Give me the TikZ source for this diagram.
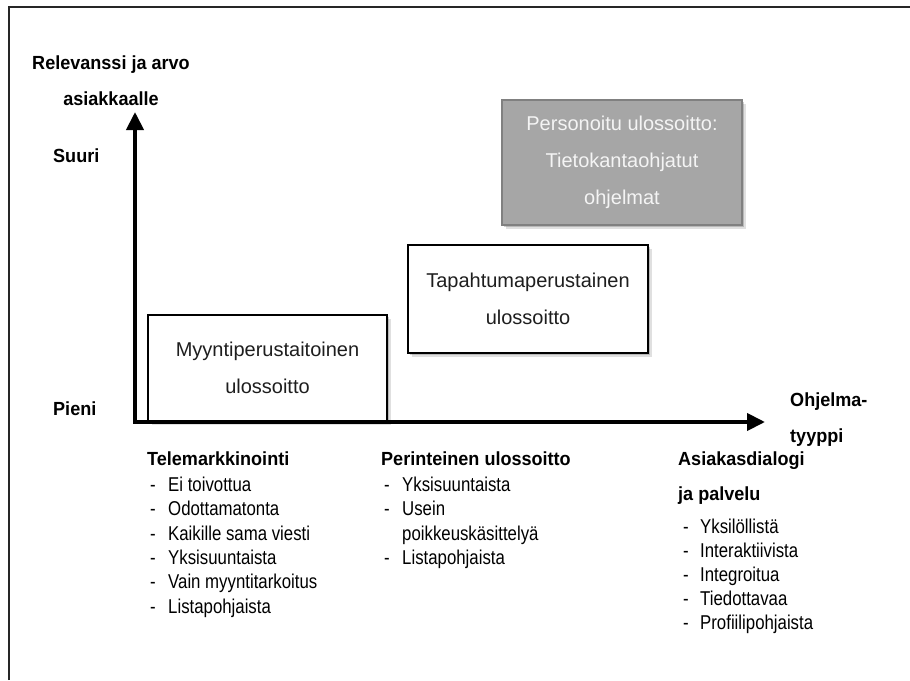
\documentclass[tikz,border=0pt]{standalone}
\usepackage{fontspec}
\setmainfont{Liberation Sans}
\newfontfamily\axisfont[FakeStretch=0.95]{Liberation Sans}
\newfontfamily\itemfont[FakeStretch=0.84]{Liberation Sans}
\usetikzlibrary{arrows.meta,shadows}

\definecolor{boxgray}{HTML}{A6A6A6}
\definecolor{boxedge}{HTML}{808080}
\definecolor{inktext}{HTML}{1E1E1E}
\definecolor{palegray}{HTML}{F4F4F4}

\newcommand{\dashlead}{\makebox[18pt][l]{-}}

\begin{document}
\begin{tikzpicture}[x=1pt,y=-1pt,
  frameline/.style={draw=black!85, line width=1.6pt},
  axisline/.style={line width=4pt, line join=miter,
    {Triangle[length=18pt,width=17pt]}-{Triangle[length=18pt,width=17pt]}},
  softshadow/.style={
    drop shadow={shadow xshift=3.5pt, shadow yshift=-3.5pt, opacity=0.12, fill=black},
    drop shadow={shadow xshift=2pt, shadow yshift=-2pt, opacity=0.18, fill=black}},
  stagebox/.style={draw=black, line width=1.5pt, fill=white, softshadow,
    inner sep=0pt, align=center, text=inktext,
    font=\fontsize{20}{37}\selectfont},
  topbox/.style={stagebox, draw=boxedge, line width=1.2pt, fill=boxgray, text=palegray},
  axislabel/.style={font=\axisfont\bfseries\fontsize{19}{23}\selectfont,
    inner sep=0pt, text height=14pt, text depth=4pt},
  heading/.style={axislabel, anchor=west},
  item/.style={font=\itemfont\fontsize{20}{24}\selectfont, inner sep=0pt,
    text height=14.5pt, text depth=4pt, anchor=west}
]
\useasboundingbox (0,0) rectangle (910,680);

% page frame (open towards the right and the bottom)
\coordinate (frameBL) at (9,680);
\coordinate (frameTL) at (9,7);
\coordinate (frameTR) at (910,7);
\draw[frameline] (frameBL) -- (frameTL) -- (frameTR);

% level boxes
\node[stagebox, minimum width=239pt, minimum height=106pt] (sales) at (267.5,368)
  {Myyntiperustaitoinen\\ulossoitto};
\node[stagebox, minimum width=240pt, minimum height=108pt] (event) at (528,299)
  {Tapahtumaperustainen\\ulossoitto};
\node[topbox, minimum width=240pt, minimum height=125pt] (personal) at (622,162.5)
  {Personoitu ulossoitto:\\Tietokantaohjatut\\ohjelmat};

% axes
\coordinate (ytip) at (135,112);
\coordinate (origin) at (135,422);
\coordinate (xtip) at (765,422);
\draw[axisline] (ytip) -- (origin) -- (xtip);

% axis captions
\node[axislabel] (ycap1) at (111,64) {Relevanssi ja arvo};
\node[axislabel] (ycap2) at (111,100) {asiakkaalle};
\node[heading] (high) at (53,157) {Suuri};
\node[heading] (low) at (53,410) {Pieni};
\node[heading] (xcap1) at (790,401) {Ohjelma-};
\node[heading] (xcap2) at (790,437) {tyyppi};

% program types
\node[heading] (tele) at (147,460) {Telemarkkinointi};
\foreach \t [count=\i] in {Ei toivottua, Odottamatonta, Kaikille sama viesti,
    Yksisuuntaista, Vain myyntitarkoitus, Listapohjaista}
  \node[item] (tele-\i) at (150,{486+24.4*(\i-1)}) {\dashlead\t};

\node[heading] (trad) at (381,460) {Perinteinen ulossoitto};
\node[item] (trad-1) at (384,486) {\dashlead Yksisuuntaista};
\node[item] (trad-2) at (384,510.4) {\dashlead Usein};
\node[item] (trad-3) at (402,534.8) {poikkeuskäsittelyä};
\node[item] (trad-4) at (384,559.2) {\dashlead Listapohjaista};

\node[heading] (dial) at (678,460) {Asiakasdialogi};
\node[heading] (dial-b) at (678,495) {ja palvelu};
\foreach \t [count=\i] in {Yksilöllistä, Interaktiivista, Integroitua,
    Tiedottavaa, Profiilipohjaista}
  \node[item] (dial-\i) at (683,{528+24*(\i-1)}) {\makebox[17pt][l]{-}\t};
\end{tikzpicture}
\end{document}
